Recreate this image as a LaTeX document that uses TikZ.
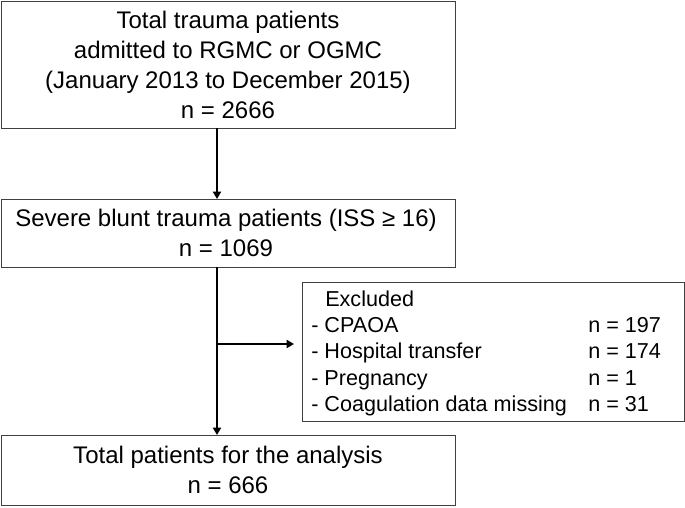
\documentclass[tikz,border=0pt]{standalone}
\usepackage{fontspec}
\setmainfont{Liberation Sans}
\usetikzlibrary{arrows.meta}
\begin{document}
\begin{tikzpicture}[x=0.75pt,y=-0.75pt,
  box/.style={draw=black!75,line width=0.75pt},
  txt/.style={inner sep=0pt,font=\fontsize{18pt}{22.5pt}\selectfont,align=center},
  ex/.style={inner sep=0pt,anchor=base west,font=\fontsize{16.2pt}{19.5pt}\selectfont},
  arr/.style={line width=1.4pt,-{Triangle[length=5.5pt,width=6pt]}}]
\useasboundingbox (0,0) rectangle (685,507);
% boxes
\draw[box] (1,1) rectangle (455,128);
\coordinate (b1) at (217,128);
\node[txt] (t1) at (228,65) {Total trauma patients\\admitted to RGMC or OGMC\\(January 2013 to December 2015)\\n = 2666};
\draw[box] (1,199) rectangle (455,267);
\coordinate (b2t) at (217,199);
\coordinate (b2b) at (217,267);
\node[txt] (t2) at (226,233) {Severe blunt trauma patients (ISS ≥ 16)\\n = 1069};
\draw[box] (1,435) rectangle (455,505);
\coordinate (b3t) at (217,435);
\node[txt] (t3) at (228,470) {Total patients for the analysis\\n = 666};
\draw[box] (302,282) rectangle (684,421);
\coordinate (exl) at (302,344);
\coordinate (br) at (217,344);
% exclusion text
\node[ex] (e0) at (325,306) {Excluded};
\node[ex] (e1) at (311,332) {- CPAOA};
\node[ex] (e2) at (311,358) {- Hospital transfer};
\node[ex] (e3) at (311,385) {- Pregnancy};
\node[ex] (e4) at (311,411) {- Coagulation data missing};
\node[ex] (n1) at (588,332) {n = 197};
\node[ex] (n2) at (588,358) {n = 174};
\node[ex] (n3) at (588,385) {n = 1};
\node[ex] (n4) at (588,411) {n = 31};
% arrows
\draw[arr] (b1) -- (b2t);
\draw[arr] (b2b) -- (b3t);
\draw[arr,shorten >=6pt] (br) -- (exl);
\end{tikzpicture}
\end{document}
